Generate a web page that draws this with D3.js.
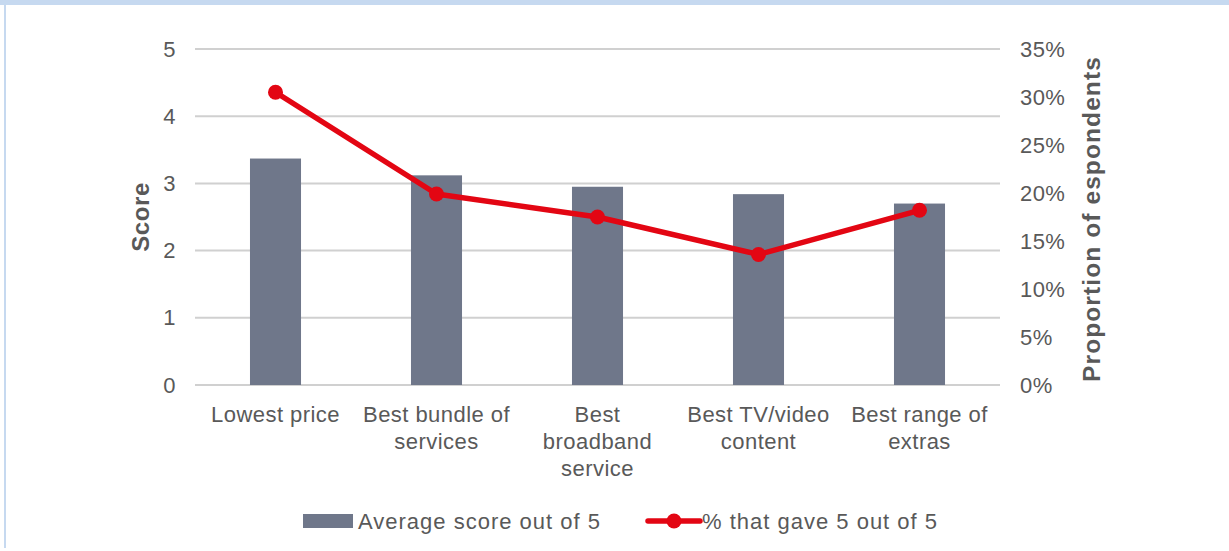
<!DOCTYPE html>
<html>
<head>
<meta charset="utf-8">
<script src="https://cdn.jsdelivr.net/npm/d3@7"></script>
<style>
	body { margin: 0; background: #fff; }
	text { font-family: 'Liberation Sans', Arial, sans-serif; fill: #595959; }
</style>
</head>
<body>
<svg id="chart" width="1229" height="551"></svg>
<script>
'use strict'

const categories = [['Lowest price'], ['Best bundle of', 'services'], ['Best', 'broadband', 'service'], ['Best TV/video', 'content'], ['Best range of', 'extras']]
const avgScore = [3.37, 3.12, 2.95, 2.84, 2.70]
const pctFive = [0.305, 0.199, 0.175, 0.136, 0.182]
const scoreTicks = [0, 1, 2, 3, 4, 5]
const pctTicks = [0, 0.05, 0.1, 0.15, 0.2, 0.25, 0.3, 0.35]
const legendLabels = ['Average score out of 5', '% that gave 5 out of 5']

const barColor = '#6f778a'
const lineColor = '#e30613'
const fontSize = 22
const spacing = '0.45px'

const svg = d3.select('#chart')

// frame of the cut-off figure box
svg.append('rect').attr('x', 0).attr('y', 0).attr('width', 1229).attr('height', 5).attr('fill', '#c6d9f0')
svg.append('rect').attr('x', 4).attr('y', 0).attr('width', 2).attr('height', 548).attr('fill', '#c6d9f0')

const plot = { left: 195, right: 1000, top: 49, bottom: 385 }

const x = d3.scaleBand()
	.domain(d3.range(categories.length))
	.range([plot.left, plot.right])
	.paddingInner(0.683)
	.paddingOuter(0.3415)

const xc = (i) => x(i) + x.bandwidth() / 2

const y = d3.scaleLinear().domain([0, 5]).range([plot.bottom, plot.top])
const y2 = d3.scaleLinear().domain([0, 0.35]).range([plot.bottom, plot.top])

// gridlines
svg.append('g')
	.selectAll('line')
	.data(scoreTicks)
	.enter()
	.append('line')
	.attr('x1', plot.left)
	.attr('x2', plot.right)
	.attr('y1', (d) => y(d))
	.attr('y2', (d) => y(d))
	.attr('stroke', '#d0d0d0')
	.attr('stroke-width', 2)

function styleTicks(axis) {
	axis.select('.domain').remove()
	axis.selectAll('text')
		.attr('font-size', fontSize)
		.attr('fill', '#595959')
		.style('letter-spacing', spacing)
		.style('font-family', "'Liberation Sans', Arial, sans-serif")
}

// left axis
const leftAxis = svg.append('g')
	.attr('transform', `translate(${plot.left - 12},0)`)
	.call(d3.axisLeft(y).tickValues(scoreTicks).tickSize(0).tickPadding(7).tickFormat(d3.format('d')))
styleTicks(leftAxis)

// right axis
const rightAxis = svg.append('g')
	.attr('transform', `translate(${plot.right + 14},0)`)
	.call(d3.axisRight(y2).tickValues(pctTicks).tickSize(0).tickPadding(6).tickFormat(d3.format('.0%')))
styleTicks(rightAxis)

// axis titles
svg.append('text')
	.attr('transform', `translate(149,${(plot.top + plot.bottom) / 2}) rotate(-90)`)
	.attr('text-anchor', 'middle')
	.attr('font-size', 24)
	.attr('font-weight', 'bold')
	.style('letter-spacing', '0.6px')
	.text('Score')

svg.append('text')
	.attr('transform', `translate(1100,${(plot.top + plot.bottom) / 2 + 2}) rotate(-90)`)
	.attr('text-anchor', 'middle')
	.attr('font-size', 24.5)
	.attr('font-weight', 'bold')
	.style('letter-spacing', '1.1px')
	.text('Proportion of espondents')

// bars
svg.append('g')
	.selectAll('rect')
	.data(avgScore)
	.enter()
	.append('rect')
	.attr('x', (d, i) => x(i))
	.attr('width', x.bandwidth())
	.attr('y', (d) => y(d))
	.attr('height', (d) => y(0) - y(d))
	.attr('fill', barColor)

// line
const line = d3.line()
	.x((d, i) => xc(i))
	.y((d) => y2(d))

svg.append('path')
	.datum(pctFive)
	.attr('d', line)
	.attr('fill', 'none')
	.attr('stroke', lineColor)
	.attr('stroke-width', 5.5)
	.attr('stroke-linejoin', 'round')

svg.append('g')
	.selectAll('circle')
	.data(pctFive)
	.enter()
	.append('circle')
	.attr('cx', (d, i) => xc(i))
	.attr('cy', (d) => y2(d))
	.attr('r', 7.5)
	.attr('fill', lineColor)

// category labels
const catLabels = svg.append('g')
	.selectAll('text')
	.data(categories)
	.enter()
	.append('text')
	.attr('text-anchor', 'middle')
	.attr('font-size', fontSize)
	.style('letter-spacing', spacing)
	.attr('x', (d, i) => xc(i))
	.attr('y', 422)

catLabels.selectAll('tspan')
	.data((d, i) => d.map((t) => ({ t, i })))
	.enter()
	.append('tspan')
	.attr('x', (d) => xc(d.i))
	.attr('dy', (d, j) => j === 0 ? 0 : 27)
	.text((d) => d.t)

// legend
const legend = svg.append('g')
legend.append('rect')
	.attr('x', 303).attr('y', 514).attr('width', 50).attr('height', 14)
	.attr('fill', barColor)
legend.append('text')
	.attr('x', 358).attr('y', 529)
	.attr('font-size', fontSize)
	.style('letter-spacing', '1px')
	.text(legendLabels[0])

legend.append('line')
	.attr('x1', 648).attr('x2', 700).attr('y1', 521).attr('y2', 521)
	.attr('stroke', lineColor).attr('stroke-width', 5.5).attr('stroke-linecap', 'round')
legend.append('circle')
	.attr('cx', 674).attr('cy', 521).attr('r', 7.5)
	.attr('fill', lineColor)
legend.append('text')
	.attr('x', 702).attr('y', 529)
	.attr('font-size', fontSize)
	.style('letter-spacing', '1px')
	.text(legendLabels[1])
</script>
</body>
</html>
